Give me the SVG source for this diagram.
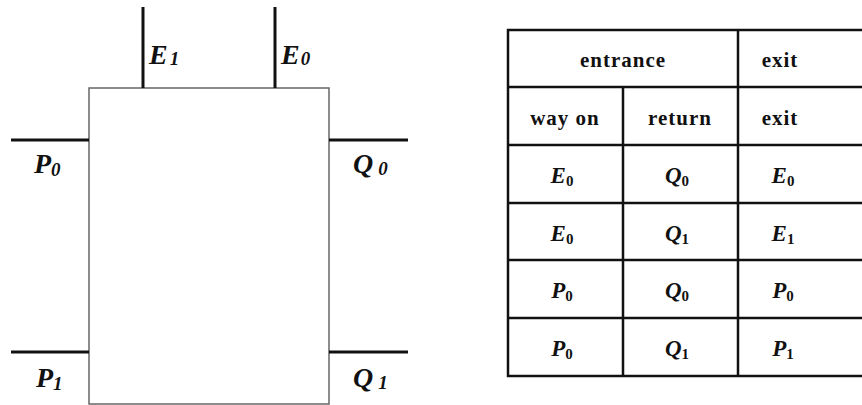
<svg xmlns="http://www.w3.org/2000/svg" width="862" height="405" viewBox="0 0 862 405">
<style>
.box{fill:#fff;stroke:#666;stroke-width:1.5}
.pin{stroke:#111;stroke-width:3;fill:none}
.grid{stroke:#111;stroke-width:2.5;fill:none}
.lbl{font-family:"Liberation Serif","Times New Roman",serif;font-style:italic;font-weight:bold;font-size:28px;fill:#111}
.lbl .s{font-size:19px}
.hd{font-family:"Liberation Serif","Times New Roman",serif;font-weight:bold;font-size:21px;letter-spacing:1px;fill:#111;text-anchor:middle}
.m{font-family:"Liberation Serif","Times New Roman",serif;font-style:italic;font-weight:bold;font-size:23px;fill:#111;text-anchor:middle}
.m .s{font-style:normal;font-size:15px}
</style>
<rect width="862" height="405" fill="#fff"/>
<g id="block">
<rect class="box" x="89" y="88" width="240" height="316"/>
</g>
<g id="connectors">
<line class="pin" x1="143" y1="7" x2="143" y2="88"/>
<line class="pin" x1="275" y1="7" x2="275" y2="88"/>
<line class="pin" x1="11" y1="140" x2="89" y2="140"/>
<line class="pin" x1="11" y1="352" x2="89" y2="352"/>
<line class="pin" x1="329" y1="140" x2="408" y2="140"/>
<line class="pin" x1="329" y1="352" x2="408" y2="352"/>
</g>
<g id="labels">
<text class="lbl" x="149" y="64">E<tspan class="s" dx="2" dy="1">1</tspan></text>
<text class="lbl" x="281" y="64">E<tspan class="s" dx="1" dy="1">0</tspan></text>
<text class="lbl" x="34" y="173">P<tspan class="s" dx="0" dy="3">0</tspan></text>
<text class="lbl" x="36" y="387">P<tspan class="s" dx="0" dy="3">1</tspan></text>
<text class="lbl" x="353" y="173">Q<tspan class="s" dx="5" dy="2">0</tspan></text>
<text class="lbl" x="353" y="387">Q<tspan class="s" dx="5" dy="2">1</tspan></text>
</g>
<g id="table">
<path class="grid" d="M862,30 H508 V376 H862 M508,87 H862 M508,145 H862 M508,203 H862 M508,260 H862 M508,318 H862 M738,30 V376 M623,87 V376"/>
<text class="hd" x="623" y="67">entrance</text>
<text class="hd" x="780" y="67">exit</text>
<text class="hd" x="565" y="125">way on</text>
<text class="hd" x="680" y="125">return</text>
<text class="hd" x="780" y="125">exit</text>
<text class="m" x="562" y="183">E<tspan class="s" dy="3">0</tspan></text>
<text class="m" x="677" y="183">Q<tspan class="s" dy="3">0</tspan></text>
<text class="m" x="783" y="183">E<tspan class="s" dy="3">0</tspan></text>
<text class="m" x="562" y="241">E<tspan class="s" dy="3">0</tspan></text>
<text class="m" x="677" y="241">Q<tspan class="s" dy="3">1</tspan></text>
<text class="m" x="783" y="241">E<tspan class="s" dy="3">1</tspan></text>
<text class="m" x="562" y="298">P<tspan class="s" dy="3">0</tspan></text>
<text class="m" x="677" y="298">Q<tspan class="s" dy="3">0</tspan></text>
<text class="m" x="783" y="298">P<tspan class="s" dy="3">0</tspan></text>
<text class="m" x="562" y="356">P<tspan class="s" dy="3">0</tspan></text>
<text class="m" x="677" y="356">Q<tspan class="s" dy="3">1</tspan></text>
<text class="m" x="783" y="356">P<tspan class="s" dy="3">1</tspan></text>
</g>
</svg>
